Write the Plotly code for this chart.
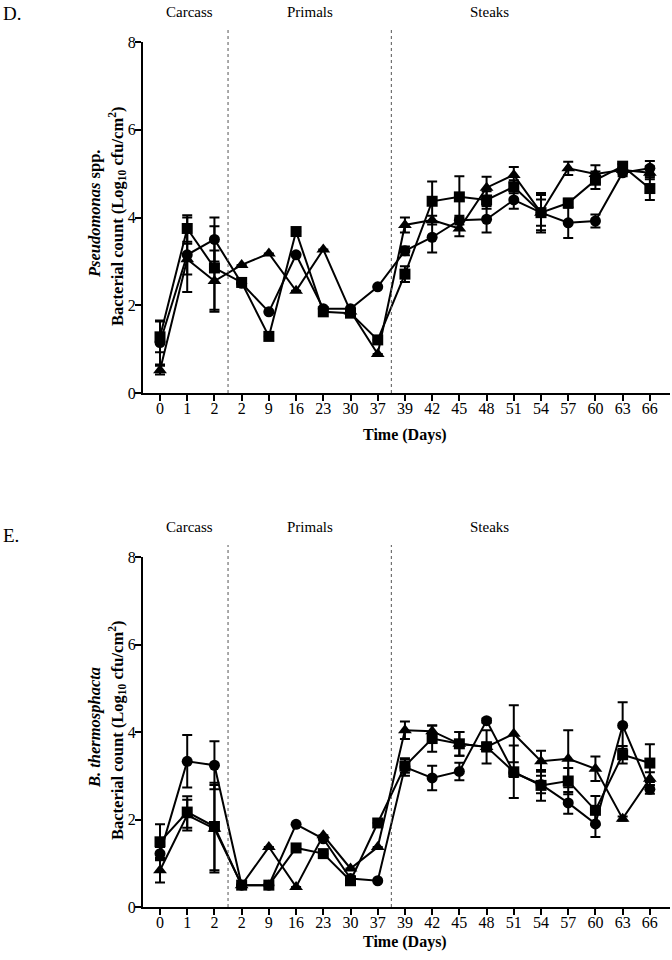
import plotly.graph_objects as go

tick_labels = ["0", "1", "2", "2", "9", "16", "23", "30", "37", "39", "42", "45",
               "48", "51", "54", "57", "60", "63", "66"]
x_idx = list(range(len(tick_labels)))

# Panel D: Pseudomonas spp.
d_circle = [1.15, 3.15, 3.50, 2.50, 1.85, 3.15, 1.92, 1.92, 2.42, 3.24, 3.55, 3.94, 3.96, 4.40, 4.11, 3.88, 3.92, 5.02, 5.12]
d_circle_err = [0.50, 0.85, 0.50, None, None, None, None, None, None, 0.10, 0.35, 0.10, 0.30, 0.20, 0.40, 0.35, 0.15, 0.08, 0.17]
d_square = [1.28, 3.75, 2.85, 2.52, 1.29, 3.68, 1.85, 1.82, 1.21, 2.71, 4.37, 4.47, 4.40, 4.70, 4.11, 4.33, 4.85, 5.17, 4.66]
d_square_err = [0.35, 0.30, 0.95, None, None, None, None, None, None, 0.18, 0.45, 0.47, 0.20, 0.15, 0.45, 0.10, 0.20, 0.05, 0.26]
d_triangle = [0.52, 3.05, 2.55, 2.92, 3.18, 2.33, 3.27, 1.86, 0.89, 3.83, 3.94, 3.75, 4.68, 4.97, 4.11, 5.12, 4.99, 5.08, 5.02]
d_triangle_err = [0.10, 0.35, 0.70, None, None, None, None, None, None, 0.17, 0.10, 0.18, 0.25, 0.18, 0.30, 0.15, 0.20, 0.05, 0.15]

# Panel E: B. thermosphacta
e_circle = [1.22, 3.33, 3.24, 0.50, 0.50, 1.89, 1.56, 0.65, 0.60, 3.20, 2.95, 3.10, 4.26, 3.07, 2.80, 2.38, 1.90, 4.15, 2.69]
e_circle_err = [0.15, 0.60, 0.55, None, None, None, None, None, None, 0.20, 0.28, 0.20, 0.05, 0.10, 0.20, 0.25, 0.30, 0.53, 0.10]
e_square = [1.49, 2.17, 1.84, 0.50, 0.50, 1.35, 1.22, 0.60, 1.92, 3.22, 3.85, 3.73, 3.66, 3.09, 2.78, 2.88, 2.21, 3.48, 3.29]
e_square_err = [0.40, 0.36, 1.00, None, None, None, None, None, None, 0.15, 0.30, 0.27, 0.38, 0.60, 0.35, 0.30, 0.33, 0.20, 0.43]
e_triangle = [0.84, 2.10, 1.79, 0.50, 1.37, 0.46, 1.64, 0.88, 1.37, 4.04, 4.02, 3.73, 3.66, 3.96, 3.33, 3.39, 3.16, 2.02, 2.93]
e_triangle_err = [0.28, 0.35, 1.00, None, None, None, None, None, None, 0.20, 0.13, 0.27, 0.10, 0.65, 0.24, 0.65, 0.28, 0.05, 0.15]

FONT = "Liberation Serif"
W, H = 672, 960
L, R = 143, 2
fig = go.Figure()

def add_series(y, err, symbol, size, xa, ya):
    fig.add_trace(go.Scatter(
        x=x_idx, y=y, mode="lines+markers",
        line=dict(color="black", width=2),
        marker=dict(symbol=symbol, size=size, color="black"),
        error_y=dict(type="data", array=err, visible=True, color="black",
                     thickness=2, width=5),
        xaxis=xa, yaxis=ya, showlegend=False, cliponaxis=False))

for y, e, s, sz in [(d_circle, d_circle_err, "circle", 11),
                    (d_square, d_square_err, "square", 11),
                    (d_triangle, d_triangle_err, "triangle-up", 12)]:
    add_series(y, e, s, sz, "x", "y")
for y, e, s, sz in [(e_circle, e_circle_err, "circle", 11),
                    (e_square, e_square_err, "square", 11),
                    (e_triangle, e_triangle_err, "triangle-up", 12)]:
    add_series(y, e, s, sz, "x2", "y2")

def py(p):
    return 1 - p / H

xr = [-0.625, 18.74]
xcommon = dict(range=xr, tickmode="array", tickvals=x_idx, ticktext=tick_labels,
               showline=True, linecolor="black", linewidth=2, ticks="outside",
               ticklen=6, tickwidth=2, tickcolor="black", showgrid=False,
               zeroline=False, tickfont=dict(family=FONT, size=16, color="black"),
               domain=[0, 1], automargin=False, ticklabelstandoff=-6)
ycommon = dict(range=[0, 8], tickvals=[0, 2, 4, 6, 8], showline=True,
               linecolor="black", linewidth=2, ticks="outside", ticklen=6,
               tickwidth=2, tickcolor="black", showgrid=False, zeroline=False,
               tickfont=dict(family=FONT, size=16, color="black"), automargin=False,
               ticklabelstandoff=-4)

fig.update_layout(
    width=W, height=H, margin=dict(l=L, r=R, t=0, b=0, autoexpand=False),
    paper_bgcolor="white", plot_bgcolor="white",
    xaxis=dict(**xcommon, anchor="y"),
    yaxis=dict(**ycommon, domain=[py(393), py(42)], anchor="x"),
    xaxis2=dict(**xcommon, anchor="y2"),
    yaxis2=dict(**ycommon, domain=[py(907), py(557)], anchor="x2"),
)

shapes = []
for xa, top, bot in [("x", 30, 393), ("x2", 545, 907)]:
    for xv in [2.5, 8.5]:
        shapes.append(dict(type="line", xref=xa, yref="paper", x0=xv, x1=xv,
                           y0=py(bot), y1=py(top),
                           line=dict(color="#555555", width=1, dash="dot")))
fig.update_layout(shapes=shapes)

def pxx(p):
    return (p - L) / (W - L - R)

ann = []
def add_ann(**kw):
    kw.setdefault("showarrow", False)
    kw.setdefault("xanchor", "center")
    kw.setdefault("yanchor", "middle")
    ann.append(kw)

for xa, ytxt in [("x", 12), ("x2", 527)]:
    for lbl, xv in [("Carcass", 1.1), ("Primals", 5.5), ("Steaks", 12.1)]:
        add_ann(text=lbl, xref=xa, yref="paper", x=xv, y=py(ytxt),
                font=dict(family=FONT, size=15, color="black"))

add_ann(text="D.", xref="paper", yref="paper", x=pxx(1), y=py(13),
        xanchor="left", font=dict(family=FONT, size=19, color="black"))
add_ann(text="E.", xref="paper", yref="paper", x=pxx(1), y=py(535),
        xanchor="left", font=dict(family=FONT, size=19, color="black"))

for ytime in [435, 942]:
    add_ann(text="<b>Time (Days)</b>", xref="paper", yref="paper",
            x=pxx(405), y=py(ytime), font=dict(family=FONT, size=16, color="black"))

ytitle = "<b>Bacterial count (Log<sub>10</sub> cfu/cm<sup>2</sup>)</b>"
for yc, sp in [(217, "<b><i>Pseudomonas</i> spp.</b>"), (731, "<b><i>B. thermosphacta</i></b>")]:
    add_ann(text=ytitle, xref="paper", yref="paper", x=pxx(117), y=py(yc),
            textangle=-90, font=dict(family=FONT, size=16.5, color="black"))
    add_ann(text=sp, xref="paper", yref="paper", x=pxx(94), y=py(yc - 3),
            textangle=-90, font=dict(family=FONT, size=16.5, color="black"))

fig.update_layout(annotations=ann)
fig.write_html("out.html", config={"displayModeBar": False},
               post_script="document.body.style.margin='0';document.body.style.overflow='hidden';")
